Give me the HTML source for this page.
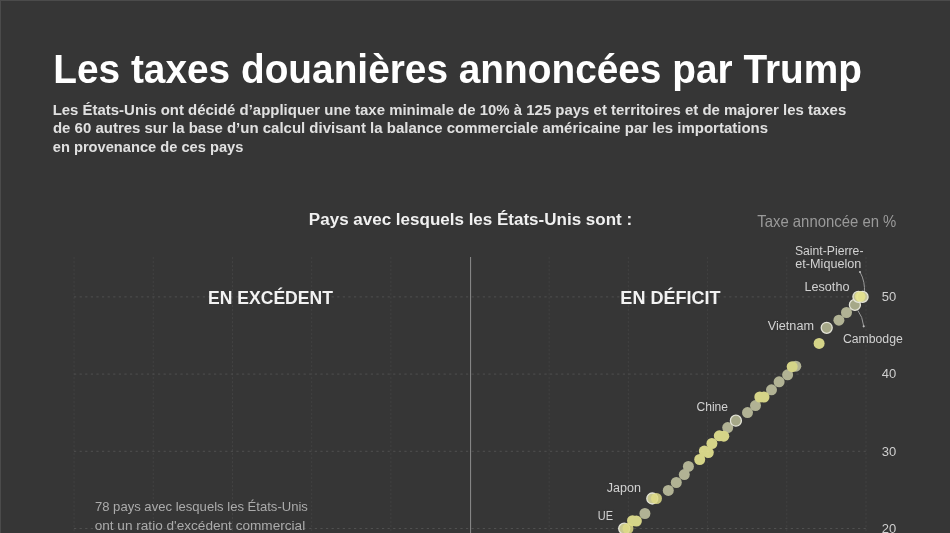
<!DOCTYPE html>
<html lang="fr">
<head>
<meta charset="utf-8">
<title>Les taxes douanières annoncées par Trump</title>
<style>
html,body{margin:0;padding:0;background:#363636;}
body{width:950px;height:533px;overflow:hidden;position:relative;}
svg{display:block;position:absolute;left:0;top:0;will-change:transform;}
text{font-family:"Liberation Sans",Arial,sans-serif;}
.b{font-weight:bold;}
</style>
</head>
<body>
<svg width="950" height="533" viewBox="0 0 950 533">
  <rect x="0" y="0" width="950" height="533" fill="#363636"/>
  <rect x="0" y="0" width="950" height="1" fill="#4b4b4b"/>
  <rect x="0" y="0" width="1" height="533" fill="#4b4b4b"/>

  <!-- grid -->
  <g stroke="#414141" stroke-width="1" stroke-dasharray="2.2 1.8" fill="none">
    <line x1="74.1" y1="257" x2="74.1" y2="533"/>
    <line x1="153.3" y1="257" x2="153.3" y2="533"/>
    <line x1="232.5" y1="257" x2="232.5" y2="533"/>
    <line x1="311.7" y1="257" x2="311.7" y2="533"/>
    <line x1="390.9" y1="257" x2="390.9" y2="533"/>
    <line x1="549.2" y1="257" x2="549.2" y2="533"/>
    <line x1="628.4" y1="257" x2="628.4" y2="533"/>
    <line x1="707.6" y1="257" x2="707.6" y2="533"/>
    <line x1="786.8" y1="257" x2="786.8" y2="533"/>
    <line x1="866.0" y1="257" x2="866.0" y2="533"/>
  </g>
  <g stroke="#505050" stroke-width="1" stroke-dasharray="2.2 3.4" fill="none">
    <line x1="74" y1="296.9" x2="866" y2="296.9"/>
    <line x1="74" y1="374.1" x2="866" y2="374.1"/>
    <line x1="74" y1="451.3" x2="866" y2="451.3"/>
    <line x1="74" y1="528.5" x2="866" y2="528.5"/>
  </g>
  <line x1="470.6" y1="257" x2="470.6" y2="533" stroke="#8e8e8e" stroke-width="1"/>

  <!-- headings -->
  <text id="title" x="53.32" y="82.5" class="b" font-size="40.5" fill="#ffffff" textLength="808.64" lengthAdjust="spacingAndGlyphs">Les taxes douanières annoncées par Trump</text>
  <g class="b" font-size="14.6" fill="#e0e0e0">
    <text id="sub1" x="52.65" y="114.6" textLength="793.60" lengthAdjust="spacingAndGlyphs">Les États-Unis ont décidé d’appliquer une taxe minimale de 10% à 125 pays et territoires et de majorer les taxes</text>
    <text id="sub2" x="52.97" y="133.3" textLength="715.05" lengthAdjust="spacingAndGlyphs">de 60 autres sur la base d’un calcul divisant la balance commerciale américaine par les importations</text>
    <text id="sub3" x="52.75" y="152" textLength="190.65" lengthAdjust="spacingAndGlyphs">en provenance de ces pays</text>
  </g>
  <text id="pays" x="308.88" y="225" class="b" font-size="16" fill="#f0f0f0" textLength="323.22" lengthAdjust="spacingAndGlyphs">Pays avec lesquels les États-Unis sont :</text>
  <text id="taxe" x="757.26" y="227.3" font-size="16.5" fill="#9a9a9a" textLength="139.07" lengthAdjust="spacingAndGlyphs">Taxe annoncée en %</text>

  <text id="exc" x="208.06" y="304.3" class="b" font-size="17.5" fill="#f2f2f2" textLength="124.80" lengthAdjust="spacingAndGlyphs">EN EXCÉDENT</text>
  <text id="def" x="620.39" y="304.3" class="b" font-size="17.5" fill="#f2f2f2" textLength="100.18" lengthAdjust="spacingAndGlyphs">EN DÉFICIT</text>

  <g font-size="13.5" fill="#ababab">
    <text id="l78a" x="94.95" y="510.6" textLength="212.97" lengthAdjust="spacingAndGlyphs">78 pays avec lesquels les États-Unis</text>
    <text id="l78b" x="94.68" y="529.5" textLength="210.53" lengthAdjust="spacingAndGlyphs">ont un ratio d'excédent commercial</text>
  </g>

  <!-- y axis labels -->
  <g font-size="13" fill="#cfcfcf">
    <text id="y50" x="881.8" y="301">50</text>
    <text id="y40" x="881.8" y="378.3">40</text>
    <text id="y30" x="881.8" y="455.6">30</text>
    <text id="y20" x="881.8" y="532.9">20</text>
  </g>

  <!-- leader lines -->
  <g stroke="#9a9a9a" stroke-width="1" fill="none">
    <path d="M860 272 Q865.5 282 864.3 293"/>
    <path d="M857.8 310.4 Q862.6 316.5 863.7 326.2"/>
  </g>
  <circle cx="860" cy="272" r="1.1" fill="#bbb"/>
  <circle cx="863.7" cy="326.3" r="1.1" fill="#bbb"/>

  <!-- dots -->
  <g opacity="0.88">
    <g fill="#c2c4a2">
      <circle cx="795.8" cy="366.2" r="5.5"/>
      <circle cx="787.6" cy="374.8" r="5.5"/>
      <circle cx="779.1" cy="381.8" r="5.5"/>
      <circle cx="771.5" cy="389.8" r="5.5"/>
      <circle cx="755.5" cy="405.6" r="5.5"/>
      <circle cx="747.5" cy="412.6" r="5.5"/>
      <circle cx="727.7" cy="427.6" r="5.5"/>
      <circle cx="688.4" cy="466.4" r="5.5"/>
      <circle cx="684.3" cy="474.6" r="5.5"/>
      <circle cx="676.3" cy="482.5" r="5.5"/>
      <circle cx="668.3" cy="490.4" r="5.5"/>
      <circle cx="644.9" cy="513.5" r="5.5"/>
      <circle cx="846.5" cy="312.5" r="5.5"/>
      <circle cx="838.9" cy="320.2" r="5.5"/>
    </g>
    <g fill="#ecea94">
      <circle cx="819.1" cy="343.4" r="5.5"/>
      <circle cx="792.2" cy="366.7" r="5.5"/>
      <circle cx="759.8" cy="397" r="5.5"/>
      <circle cx="764" cy="397" r="5.5"/>
      <circle cx="723.8" cy="436.2" r="5.5"/>
      <circle cx="719.3" cy="435.8" r="5.5"/>
      <circle cx="708.3" cy="452.6" r="5.5"/>
      <circle cx="711.9" cy="443.5" r="5.5"/>
      <circle cx="704.3" cy="451.1" r="5.5"/>
      <circle cx="699.7" cy="459.5" r="5.5"/>
      <circle cx="636.4" cy="521" r="5.5"/>
      <circle cx="632.5" cy="520.7" r="5.5"/>
    </g>
  </g>
  <!-- outlined (labelled) dots -->
  <g stroke="#e4e4d8" stroke-width="1.3">
    <circle cx="735.9" cy="420.7" r="5.5" fill="#a6a888"/>
    <circle cx="826.7" cy="327.8" r="5.5" fill="#a6a888"/>
    <circle cx="854.9" cy="304.9" r="5.5" fill="#a6a888"/>
    <circle cx="652.3" cy="498.5" r="5.5" fill="#c9c890"/>
    <circle cx="624.2" cy="528.6" r="5.5" fill="#c9c890"/>
    <circle cx="858.4" cy="296.8" r="5.5" fill="#c4c394"/>
  </g>
  <circle cx="862.6" cy="296.9" r="5.5" fill="#c8c79a" stroke="#e4e4d8" stroke-width="1.3"/>
  <circle cx="860.2" cy="296.5" r="5.2" fill="#e6e48e" opacity="0.85"/>
  <circle cx="656.5" cy="498.5" r="5.5" fill="#dedb86" opacity="0.85"/>
  <circle cx="628" cy="528.5" r="5.5" fill="#dedb86" opacity="0.85"/>

  <!-- dot labels -->
  <g font-size="12.5" fill="#d2d2d2" stroke="#363636" stroke-width="3" paint-order="stroke" stroke-linejoin="round">
    <text id="spm1" x="794.93" y="254.5" textLength="68.54" lengthAdjust="spacingAndGlyphs">Saint-Pierre-</text>
    <text id="spm2" x="795.32" y="267.9" textLength="66.06" lengthAdjust="spacingAndGlyphs">et-Miquelon</text>
    <text id="lesotho" x="804.51" y="290.5" textLength="44.92" lengthAdjust="spacingAndGlyphs">Lesotho</text>
    <text id="vietnam" x="767.79" y="330.2" textLength="46.23" lengthAdjust="spacingAndGlyphs">Vietnam</text>
    <text id="cambodge" x="842.89" y="342.5" textLength="59.94" lengthAdjust="spacingAndGlyphs">Cambodge</text>
    <text id="chine" x="696.51" y="411.1" textLength="31.56" lengthAdjust="spacingAndGlyphs">Chine</text>
    <text id="japon" x="606.84" y="492.4" textLength="34.15" lengthAdjust="spacingAndGlyphs">Japon</text>
    <text id="ue" x="597.74" y="519.7" textLength="15.22" lengthAdjust="spacingAndGlyphs">UE</text>
  </g>
</svg>
</body>
</html>
